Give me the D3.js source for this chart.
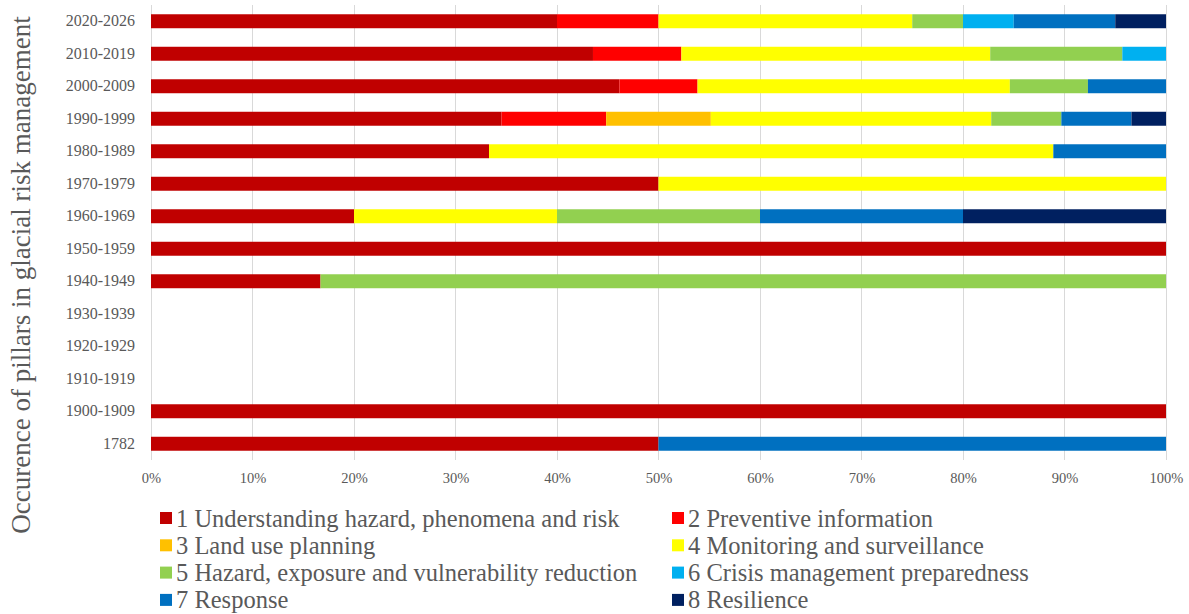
<!DOCTYPE html>
<html><head><meta charset="utf-8">
<script src="https://cdn.jsdelivr.net/npm/d3@7"></script>
<style>body{margin:0;background:#fff;}</style>
</head><body><svg id="c" width="1189" height="614"></svg>
<script>
const categories = ["2020-2026","2010-2019","2000-2009","1990-1999","1980-1989","1970-1979","1960-1969","1950-1959","1940-1949","1930-1939","1920-1929","1910-1919","1900-1909","1782"];
const seriesNames = ["1 Understanding hazard, phenomena and risk","2 Preventive information","3 Land use planning","4 Monitoring and surveillance","5 Hazard, exposure and vulnerability reduction","6 Crisis management preparedness","7 Response","8 Resilience"];
const seriesColors = ["#C00000","#FF0000","#FFC000","#FFFF00","#92D050","#00B0F0","#0070C0","#002060"];
// percentages per category (same order as categories)
const s1 = [40, 43.5, 46.2, 34.5, 33.3, 50, 20, 100, 16.7, 0, 0, 0, 100, 50];
const s2 = [10, 8.7, 7.7, 10.3, 0, 0, 0, 0, 0, 0, 0, 0, 0, 0];
const s3 = [0, 0, 0, 10.3, 0, 0, 0, 0, 0, 0, 0, 0, 0, 0];
const s4 = [25, 30.4, 30.8, 27.6, 55.6, 50, 20, 0, 0, 0, 0, 0, 0, 0];
const s5 = [5, 13.0, 7.7, 6.9, 0, 0, 20, 0, 83.3, 0, 0, 0, 0, 0];
const s6 = [5, 4.3, 0, 0, 0, 0, 0, 0, 0, 0, 0, 0, 0, 0];
const s7 = [10, 0, 7.7, 6.9, 11.1, 0, 20, 0, 0, 0, 0, 0, 0, 50];
const s8 = [5, 0, 0, 3.4, 0, 0, 20, 0, 0, 0, 0, 0, 0, 0];
const ticks = [0,0.1,0.2,0.3,0.4,0.5,0.6,0.7,0.8,0.9,1];
const yTitle = "Occurence of pillars in glacial risk management";

const FONT = "'Liberation Serif', 'Times New Roman', 'DejaVu Serif', serif";
const series = [s1,s2,s3,s4,s5,s6,s7,s8];
const rows = categories.map((c,i)=>{const o={cat:c}; series.forEach((s,k)=>o["k"+k]=s[i]); return o;});
const keys = series.map((s,k)=>"k"+k);
const stacked = d3.stack().keys(keys).offset(d3.stackOffsetExpand)(rows);

const svg = d3.select("#c");
const x = d3.scaleLinear().domain([0,1]).range([151,1166]);
const y = d3.scaleBand().domain(categories).range([5,460]).paddingInner(0.57).paddingOuter(0.285);

// gridlines
svg.append("g").selectAll("line").data(ticks).join("line")
  .attr("x1",d=>x(d)).attr("x2",d=>x(d)).attr("y1",5).attr("y2",460)
  .attr("stroke","#d9d9d9").attr("stroke-width",1).attr("shape-rendering","crispEdges");

// bars
stacked.forEach((layer,k)=>{
  svg.append("g").attr("fill",seriesColors[k]).selectAll("rect").data(layer.filter(d=>!isNaN(d[0])&&!isNaN(d[1]))).join("rect")
    .attr("x",d=>x(d[0])).attr("width",d=>Math.max(0,x(d[1])-x(d[0])))
    .attr("y",d=>y(d.data.cat)).attr("height",y.bandwidth());
});

// x axis tick labels
const xAxis = d3.axisBottom(x).tickValues(ticks).tickFormat(d3.format(".0%")).tickSize(0).tickPadding(0);
const gx = svg.append("g").attr("transform","translate(0,473)").call(xAxis);
gx.select(".domain").remove();
gx.attr("font-family",null);
gx.selectAll("text").style("font-family",FONT).style("font-size","14.5px").attr("fill","#595959").attr("dy","0.71em");

// y axis labels
const yAxis = d3.axisLeft(y).tickSize(0).tickPadding(16);
const gy = svg.append("g").attr("transform","translate(151,0)").call(yAxis);
gy.select(".domain").remove();
gy.attr("font-family",null);
gy.selectAll("text").style("font-family",FONT).style("font-size","16px").attr("fill","#595959");

// y title
svg.append("text").attr("transform","translate(30,275) rotate(-90)").attr("text-anchor","middle")
  .style("font-family",FONT).style("font-size","27px").attr("fill","#595959").text(yTitle);

// legend
const lx = [160, 672], ly0 = 518, ldy = 27.3;
const lg = svg.append("g").selectAll("g").data(seriesNames).join("g")
  .attr("transform",(d,i)=>`translate(${lx[i%2]},${ly0+Math.floor(i/2)*ldy})`);
lg.append("rect").attr("x",0).attr("y",-6).attr("width",12).attr("height",12).attr("fill",(d,i)=>seriesColors[i]);
lg.append("text").attr("x",16).attr("y",0).attr("dy","0.35em").style("font-family",FONT).style("font-size","24.5px").attr("fill","#595959").text(d=>d);
</script></body></html>
